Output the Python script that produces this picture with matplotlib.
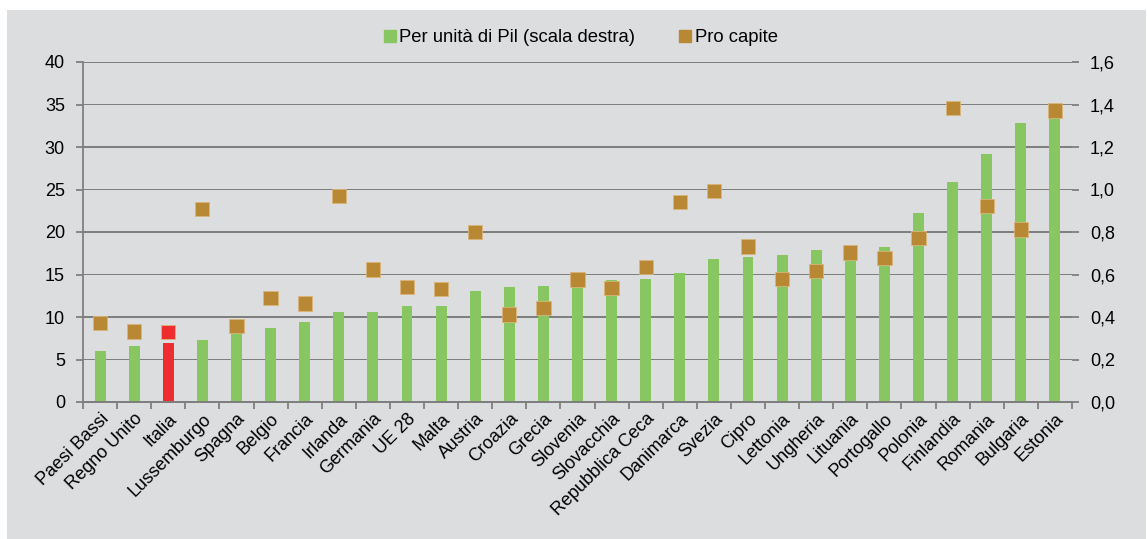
import matplotlib.pyplot as plt
from matplotlib.patches import Rectangle
from matplotlib.lines import Line2D
import numpy as np

plt.rcParams["font.family"] = ["Liberation Sans", "DejaVu Sans"]

paesi = ["Paesi Bassi", "Regno Unito", "Italia", "Lussemburgo", "Spagna", "Belgio",
         "Francia", "Irlanda", "Germania", "UE 28", "Malta", "Austria", "Croazia",
         "Grecia", "Slovenia", "Slovacchia", "Repubblica Ceca", "Danimarca", "Svezia",
         "Cipro", "Lettonia", "Ungheria", "Lituania", "Portogallo", "Polonia",
         "Finlandia", "Romania", "Bulgaria", "Estonia"]
per_pil = [0.24, 0.264, 0.276, 0.29, 0.339, 0.347, 0.375, 0.422, 0.425, 0.45,
           0.452, 0.522, 0.543, 0.546, 0.553, 0.575, 0.579, 0.608, 0.673, 0.684,
           0.693, 0.717, 0.70, 0.729, 0.889, 1.034, 1.168, 1.314, 1.35]
pro_capite = [9.3, 8.3, 8.2, 22.7, 8.9, 12.2, 11.6, 24.2, 15.6, 13.5, 13.3, 20.0,
              10.3, 11.1, 14.4, 13.4, 15.9, 23.5, 24.8, 18.3, 14.5, 15.4, 17.6,
              16.9, 19.3, 34.6, 23.1, 20.3, 34.3]
left_ticks = [0, 5, 10, 15, 20, 25, 30, 35, 40]
right_ticks = [0.0, 0.2, 0.4, 0.6, 0.8, 1.0, 1.2, 1.4, 1.6]

bg = "#dcdddf"
green = "#88c662"
brown = "#b98835"
red = "#ee2e2e"
gridc = "#7f7f7f"

fig = plt.figure(figsize=(11.47, 5.39), dpi=100, facecolor="white")
fig.patches.append(Rectangle((7 / 1147, 0), 1 - 8 / 1147, 1 - 10 / 539,
                             transform=fig.transFigure, facecolor=bg,
                             edgecolor="none", zorder=-10))

# bars (right scale) on the lower axes, squares (left scale) on the twin above
ax = fig.add_axes([83 / 1147, 1 - 402 / 539, (1072 - 83) / 1147, 340 / 539])
ax.set_facecolor(bg)
ax2 = ax.twinx()
ax.yaxis.tick_right()
ax2.yaxis.tick_left()

x = np.arange(len(paesi))
bar_colors = [red if p == "Italia" else green for p in paesi]
ax.bar(x, per_pil, width=0.32, color=bar_colors, zorder=2)
sq_colors = [red if p == "Italia" else brown for p in paesi]
ax2.scatter(x, pro_capite, marker="s", s=105, c=sq_colors, edgecolors="#d9b57a",
            linewidths=0.6, zorder=3)

ax.set_ylim(0, 1.6)
ax2.set_ylim(0, 40)
ax.set_xlim(-0.5, len(paesi) - 0.5)
ax.set_yticks(right_ticks)
ax.set_yticklabels([f"{v:.1f}".replace(".", ",") for v in right_ticks])
ax2.set_yticks(left_ticks)

# gridlines as thin bands behind the bars
for v in right_ticks[1:]:
    ax.axhspan(v - 0.0035, v + 0.0035, facecolor=gridc, edgecolor="none", zorder=1)

ax.set_xticks(x)
ax.set_xticklabels(paesi, rotation=45, ha="right", rotation_mode="anchor", fontsize=13)
ax.set_xticks(np.arange(len(paesi) + 1) - 0.5, minor=True)
ax.tick_params(axis="x", which="major", length=0, pad=6)
ax.tick_params(axis="x", which="minor", length=5, color=gridc, width=1.3)
ax.tick_params(axis="y", length=5, color=gridc, width=1.3, labelsize=13, pad=8)
ax2.tick_params(axis="y", length=5, color=gridc, width=1.3, labelsize=13, pad=8)

for a in (ax, ax2):
    a.spines["top"].set_visible(False)
    a.spines["right"].set_visible(False)
    a.spines["left"].set_visible(False)
    a.spines["bottom"].set_color(gridc)
    a.spines["bottom"].set_linewidth(1.3)
ax2.spines["left"].set_visible(True)
ax2.spines["left"].set_color(gridc)
ax2.spines["left"].set_linewidth(1.3)

handles = [Line2D([], [], marker="s", ls="none", color=green, markersize=8),
           Line2D([], [], marker="s", ls="none", color=brown, markersize=8)]
fig.legend(handles, ["Per unità di Pil (scala destra)", "Pro capite"],
           loc="center", bbox_to_anchor=(0.505, 1 - 38 / 539), ncol=2, frameon=False,
           fontsize=13.3, handletextpad=0.0, columnspacing=2.2, handlelength=1.0)

fig.savefig("out.png", dpi=100, facecolor=fig.get_facecolor())
